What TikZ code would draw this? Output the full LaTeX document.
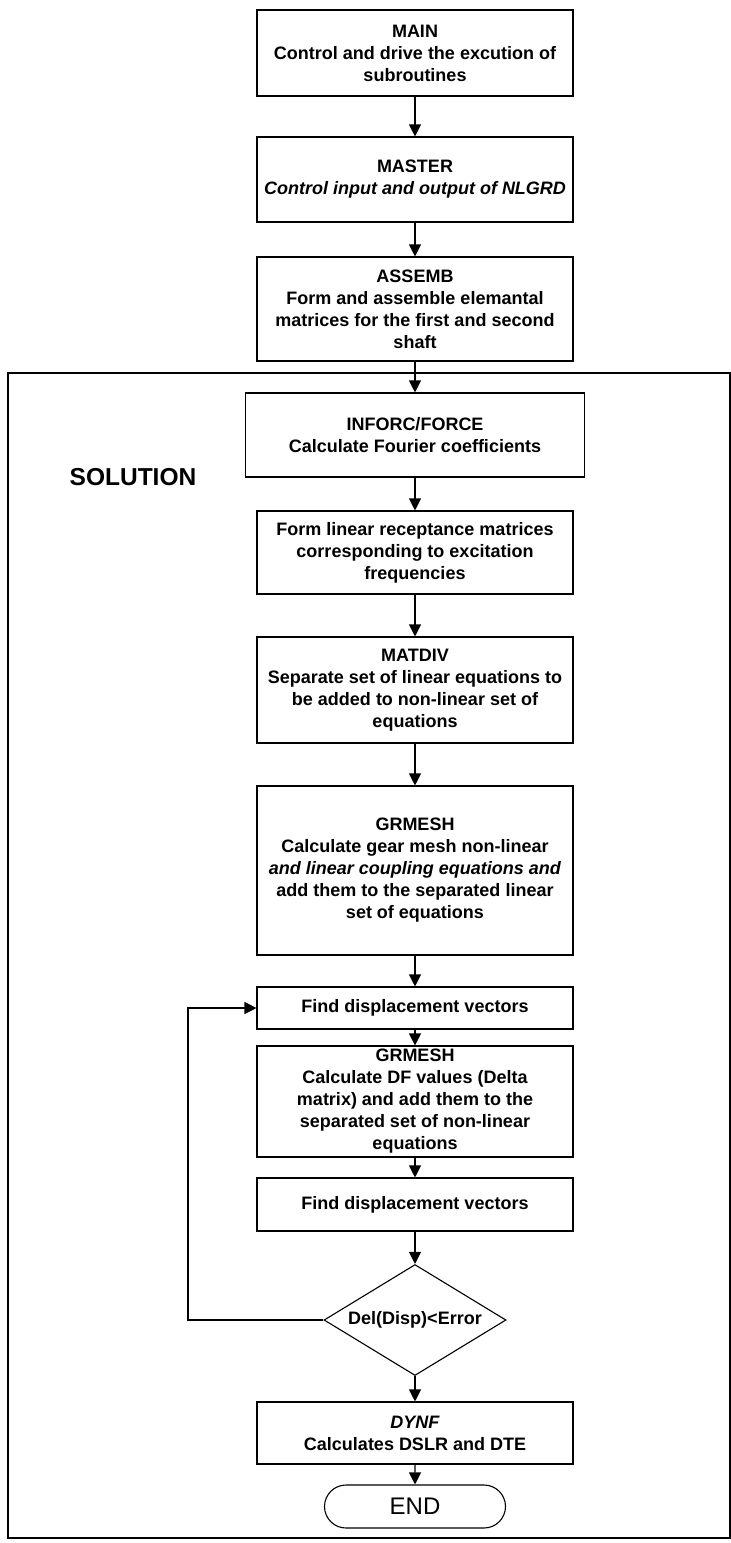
\documentclass[tikz,border=0pt]{standalone}
\usepackage{fontspec}
\setmainfont{Liberation Sans}
\usetikzlibrary{arrows.meta,shapes.geometric,shapes.misc}

\begin{document}
\begin{tikzpicture}[x=1pt,y=-1pt,
    box/.style={draw,line width=1.1pt,minimum width=316pt,inner sep=0pt,align=center,
      font=\bfseries\fontsize{18}{22}\selectfont},
    arr/.style={line width=1.1pt,-{Triangle[width=12pt,length=12pt]}}]
  \useasboundingbox (0,0) rectangle (731,1543);
  % frame round the solution part
  \draw[line width=1.3pt] (8,373) rectangle (730,1538);
  \node[font=\bfseries\fontsize{24.5}{28}\selectfont] (sol) at (133,477) {SOLUTION};
  % boxes
  \node[box,minimum height=86pt] (main) at (415,53) {MAIN\\Control and drive the excution of\\subroutines};
  \node[box,minimum height=85pt] (master) at (415,179.5) {MASTER\\\textit{Control input and output of NLGRD}};
  \node[box,minimum height=104pt] (assemb) at (415,309) {ASSEMB\\Form and assemble elemantal\\matrices for the first and second\\shaft};
  \node[box,minimum width=339pt,minimum height=84pt] (inforc) at (415,435) {INFORC/FORCE\\Calculate Fourier coefficients};
  \node[box,minimum height=83pt] (recep) at (415,552.5) {Form linear receptance matrices\\corresponding to excitation\\frequencies};
  \node[box,minimum height=106pt] (matdiv) at (415,690) {MATDIV\\Separate set of linear equations to\\be added to non-linear set of\\equations};
  \node[box,minimum height=169pt] (grmesh) at (415,870.5) {GRMESH\\Calculate gear mesh non-linear\\\textit{and linear coupling equations and}\\add them to the separated linear\\set of equations};
  \node[box,minimum height=42pt] (find1) at (415,1008) {Find displacement vectors};
  \node[box,minimum height=111pt] (grmesh2) at (415,1101.5) {GRMESH\\Calculate DF values (Delta\\matrix) and add them to the\\separated set of non-linear\\equations};
  \node[box,minimum height=53pt] (find2) at (415,1204.5) {Find displacement vectors};
  \node[draw,diamond,aspect=1.64,line width=1.1pt,minimum width=182pt,minimum height=111pt,inner sep=0pt,
    font=\bfseries\fontsize{18}{22}\selectfont] (dec) at (415,1320) {Del(Disp)<Error};
  \node[box,minimum height=62pt] (dynf) at (415,1433) {\textit{DYNF}\\Calculates DSLR and DTE};
  \node[draw,rounded rectangle,line width=1.1pt,minimum width=181pt,minimum height=43pt,inner sep=0pt,
    font=\fontsize{24}{28}\selectfont] (end) at (415,1506.5) {END};
  % connectors
  \draw[arr] (main) -- (master);
  \draw[arr] (master) -- (assemb);
  \draw[arr] (assemb) -- (inforc);
  \draw[arr] (inforc) -- (recep);
  \draw[arr] (recep) -- (matdiv);
  \draw[arr] (matdiv) -- (grmesh);
  \draw[arr] (grmesh) -- (find1);
  \draw[arr] (find1) -- (grmesh2);
  \draw[arr] (grmesh2) -- (find2);
  \draw[arr] (find2) -- (dec);
  \draw[arr] (dec) -- (dynf);
  \draw[arr] (dynf) -- (end);
  % loop back
  \coordinate (loop) at (188,1160);
  \draw[arr] (dec.west) -| (loop) |- (find1.west);
\end{tikzpicture}
\end{document}
